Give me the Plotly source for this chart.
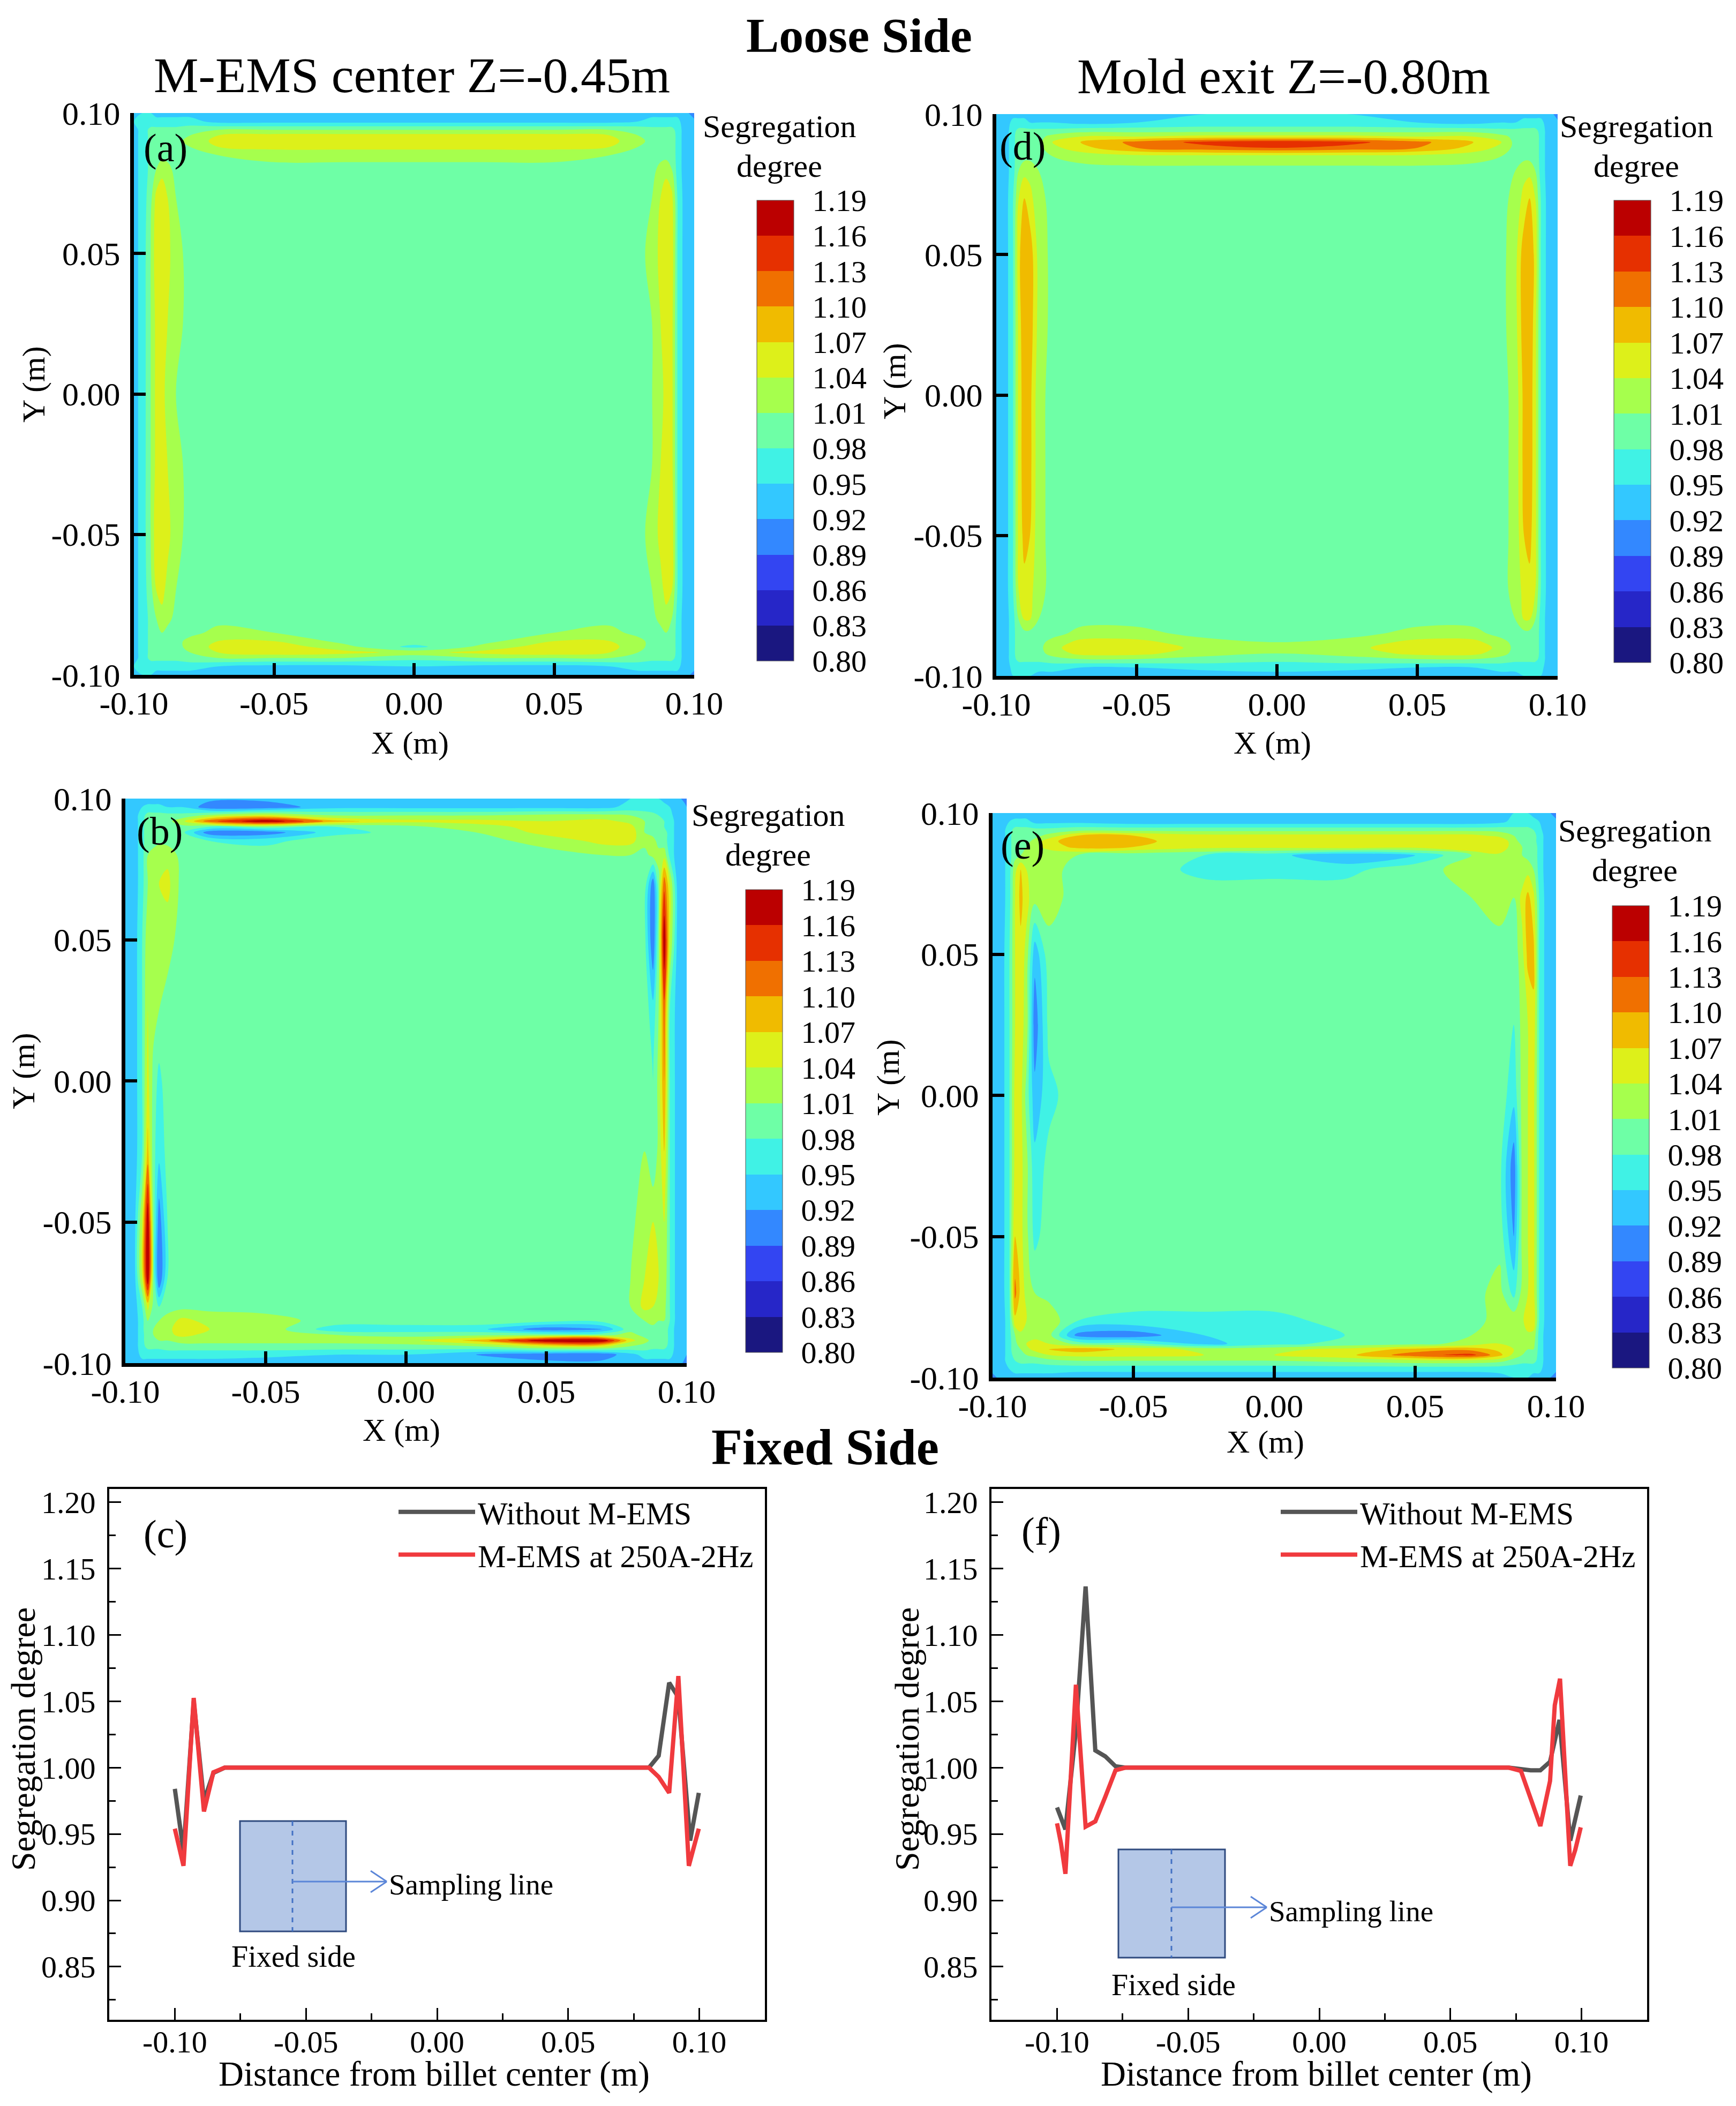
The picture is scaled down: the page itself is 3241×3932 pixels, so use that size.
import plotly.graph_objects as go

# size of the photographed page in pixels, the browser keeps an 8px body margin
W = 3241
H = 3932
PAGE_MARGIN = 8
FIG_W = W - PAGE_MARGIN
FIG_H = H - PAGE_MARGIN
FONT = "Liberation Serif"

# contour grid (m), finer near the walls
grid = [-.100, -.097, -.094, -.092, -.090, -.088, -.085, -.080, -.070, -.050, -.025, 0,
        .025, .050, .070, .080, .085, .088, .090, .092, .094, .097, .100]
grid_top_down = grid[::-1]

# segregation degree x100, rows run from y=+0.10 down to y=-0.10
z_a = [
    [95,95,95,94,94,94,94,94,93,93,94,94,94,93,93,94,94,94,94,94,94,93,90],
    [95,96,96,96,96,96,96,96,94,94,94,94,94,94,94,95,96,96,96,96,96,93,93],
    [94,96,99,99,99,99,99,100,101,101,101,101,101,101,101,100,99,99,99,99,97,93,93],
    [94,96,99,100,100,100,100,101,104,105,105,105,105,105,104,101,100,100,100,100,97,93,93],
    [94,96,99,100,100,100,100,102,105,106,106,106,106,106,105,102,100,100,100,100,97,93,93],
    [94,96,99,100,100,100,100,101,104,105,105,105,105,105,104,101,100,100,100,100,97,93,93],
    [94,96,99,100,100,100,100,100,101,102,102,102,102,102,101,100,100,100,100,100,97,93,93],
    [94,96,99,101,103,102,100,100,100,100,100,100,100,100,100,100,100,102,103,101,97,93,93],
    [94,96,100,105,106,104,101,100,100,100,100,100,100,100,100,100,101,104,106,105,98,93,93],
    [94,96,101,106,106,105,102,100,100,100,100,100,100,100,100,100,102,105,106,106,98,93,93],
    [94,96,101,105,106,104,102,100,100,100,100,100,100,100,100,100,101,104,106,105,98,93,93],
    [94,96,101,105,105,103,101,100,100,100,100,100,100,100,100,100,101,103,105,105,98,93,93],
    [94,96,101,105,106,104,102,100,100,100,100,100,100,100,100,100,101,104,106,105,98,93,93],
    [94,96,101,106,106,105,102,100,100,100,100,100,100,100,100,100,102,105,106,106,98,93,93],
    [94,96,100,104,105,103,101,100,100,100,100,100,100,100,100,100,101,103,105,104,98,93,93],
    [94,96,99,101,103,102,100,100,100,100,100,100,100,100,100,100,100,102,103,101,97,93,93],
    [94,96,99,100,101,100,100,100,102,101,100,100,100,101,102,100,100,100,101,100,97,93,93],
    [94,96,99,100,100,100,100,102,104,104,100,100,100,104,104,102,100,100,100,100,97,93,93],
    [94,96,99,100,100,100,100,102,105,106,102,97,102,106,105,102,100,100,100,100,97,93,93],
    [94,96,99,100,100,100,100,101,104,106,105,103,105,106,104,101,100,100,100,100,97,93,93],
    [94,96,99,99,99,99,99,100,101,101,101,99,101,101,101,100,99,99,99,99,97,93,93],
    [95,96,96,96,96,96,96,96,95,94,94,95,94,94,95,96,96,96,96,96,96,93,93],
    [95,95,95,94,94,94,94,94,93,93,93,93,93,93,93,94,94,94,94,94,94,93,91],
]
z_b = [
    [94,94,94,93,93,93,93,93,93,93,93,93,93,93,94,95,96,95,95,94,93,93,90],
    [93,93,95,96,96,96,95,95,90,90,94,94,94,94,94,96,96,96,96,96,95,93,92],
    [93,93,97,99,99,99,99,99,102,105,101,101,101,102,102,101,100,99,98,97,96,93,92],
    [93,93,97,100,100,100,100,103,112,119,108,105,105,104,105,103,101,100,99,98,97,93,92],
    [93,93,97,100,100,100,100,100,98,100,98,100,103,105,106,105,101,100,99,98,97,93,92],
    [93,93,97,100,100,100,100,99,90,90,97,99,101,105,106,106,101,100,100,99,97,93,92],
    [93,93,97,100,100,100,100,100,98,97,100,100,100,102,105,105,102,102,100,99,97,93,92],
    [93,93,97,101,102,104,103,100,100,100,100,100,100,100,101,101,100,102,102,103,97,93,93],
    [93,93,97,101,102,104,105,100,100,100,100,100,100,100,100,100,100,90,100,112,104,93,93],
    [93,93,98,103,103,103,102,100,100,100,100,100,100,100,100,100,99,89,100,119,104,93,93],
    [93,93,98,104,102,101,100,100,100,100,100,100,100,100,100,100,100,96,101,112,98,93,93],
    [93,93,98,105,100,97,100,100,100,100,100,100,100,100,100,100,100,98,102,110,98,93,93],
    [93,93,98,108,99,96,99,100,100,100,100,100,100,100,100,100,101,98,102,107,98,93,93],
    [93,93,104,119,100,90,98,100,100,100,100,100,100,100,100,100,103,104,103,104,98,93,93],
    [93,93,104,119,100,89,98,100,100,100,100,100,100,100,100,101,104,106,104,103,98,93,93],
    [93,93,98,105,100,98,100,100,100,100,100,100,100,100,100,101,105,104,102,102,98,93,93],
    [93,93,97,101,101,101,102,105,103,102,100,100,100,99,99,100,101,102,101,101,98,93,93],
    [93,93,97,101,101,102,103,106,104,103,96,96,96,90,92,100,100,100,100,100,97,93,93],
    [93,93,97,100,101,102,103,105,103,103,101,100,100,100,100,102,100,100,100,100,97,93,93],
    [93,93,97,100,100,101,101,102,102,102,102,103,108,119,119,105,102,100,100,100,97,93,93],
    [93,93,97,99,99,99,100,100,100,100,100,100,101,105,105,101,100,99,99,99,97,93,93],
    [93,93,96,96,96,96,96,96,96,96,95,95,92,90,90,94,96,96,96,96,96,93,92],
    [94,94,94,94,94,94,94,94,94,93,93,93,93,93,93,94,94,94,94,94,94,93,91],
]
z_d = [
    [94,94,94,94,94,93,93,93,93,94,95,95,95,94,93,93,93,94,94,94,94,94,90],
    [93,93,96,96,96,95,95,95,94,95,96,96,96,95,94,95,95,96,96,96,96,93,93],
    [93,93,97,99,99,99,99,99,100,100,100,100,100,100,100,99,99,99,99,99,97,93,93],
    [93,93,97,100,100,100,100,102,104,104,105,105,105,104,104,102,100,100,100,100,97,93,93],
    [93,93,97,100,100,100,100,104,107,111,114,115,114,111,107,104,100,100,100,100,97,93,93],
    [93,93,97,100,100,100,100,103,106,110,112,113,112,110,106,103,100,100,100,100,97,93,93],
    [93,93,97,100,100,100,100,101,102,103,103,103,103,103,102,101,100,100,100,100,97,93,93],
    [93,93,97,101,103,103,101,100,100,100,100,100,100,100,100,100,101,103,103,101,97,93,93],
    [93,93,98,104,107,105,102,100,100,100,100,100,100,100,100,100,102,105,107,104,98,93,93],
    [93,93,98,106,110,109,103,100,100,100,100,100,100,100,100,100,103,109,110,106,98,93,93],
    [93,93,98,105,110,109,103,100,100,100,100,100,100,100,100,100,103,109,110,105,98,93,93],
    [93,93,98,105,109,108,102,100,100,100,100,100,100,100,100,100,102,108,109,105,98,93,93],
    [93,93,98,105,109,108,102,100,100,100,100,100,100,100,100,100,102,108,109,105,98,93,93],
    [93,93,98,105,108,107,102,100,100,100,100,100,100,100,100,100,102,107,108,105,98,93,93],
    [93,93,98,104,106,105,102,100,100,100,100,100,100,100,100,100,102,105,106,104,98,93,93],
    [93,93,97,101,104,104,101,100,100,100,100,100,100,100,100,100,101,104,104,101,97,93,93],
    [93,93,97,100,100,100,100,100,102,102,100,100,100,102,102,100,100,100,100,100,97,93,93],
    [93,93,97,100,100,100,100,102,105,105,102,101,102,105,105,102,100,100,100,100,97,93,93],
    [93,93,97,100,100,100,100,103,106,106,103,102,103,106,106,103,100,100,100,100,97,93,93],
    [93,93,97,100,100,100,100,102,105,105,102,101,102,105,105,102,100,100,100,100,97,93,93],
    [93,93,97,99,99,99,99,100,101,101,100,99,100,101,101,100,99,99,99,99,97,93,93],
    [94,93,96,96,96,96,96,96,95,95,96,96,96,95,95,96,96,96,96,96,96,93,94],
    [95,95,95,95,95,95,94,94,93,93,93,94,93,93,93,94,94,95,95,95,95,95,92],
]
z_e = [
    [92,93,93,93,93,93,93,93,93,93,93,93,93,93,93,94,95,95,95,94,93,93,90],
    [93,93,95,96,96,96,94,94,94,93,93,93,93,93,93,94,96,96,96,96,95,93,93],
    [93,93,97,99,99,99,99,99,100,100,100,100,100,100,100,100,99,99,99,98,96,93,93],
    [93,93,97,100,100,100,100,102,107,107,105,105,105,105,105,103,101,100,100,99,97,93,93],
    [93,93,97,100,100,100,102,106,109,108,105,105,105,105,106,107,102,100,100,99,97,93,93],
    [93,93,97,100,100,101,103,105,108,107,105,105,106,105,107,107,102,101,100,100,97,93,93],
    [93,93,97,100,101,102,103,102,101,99,98,96,92,95,101,103,102,101,100,100,97,93,93],
    [93,93,97,103,107,104,101,102,100,100,97,97,97,100,102,103,103,102,103,101,97,93,93],
    [93,93,97,104,108,105,102,102,100,100,100,100,100,100,101,102,101,105,108,105,98,93,93],
    [93,93,98,104,106,103,93,100,100,100,100,100,100,100,100,100,99,103,108,108,98,93,93],
    [93,93,98,104,105,103,90,99,100,100,100,100,100,100,100,100,98,102,104,106,98,93,93],
    [93,93,98,105,105,100,93,97,100,100,100,100,100,100,100,100,96,102,104,105,98,93,93],
    [93,93,98,105,105,102,96,99,100,100,100,100,100,100,100,99,90,102,104,105,98,93,93],
    [93,93,98,107,105,102,97,100,100,100,100,100,100,100,100,100,92,102,104,105,98,93,93],
    [93,93,98,111,106,103,101,100,100,100,100,100,100,100,100,102,97,102,104,105,98,93,93],
    [93,93,97,106,107,104,102,103,98,97,97,97,99,100,100,102,103,103,107,106,98,93,93],
    [93,93,97,101,103,102,103,102,91,90,95,97,98,99,101,102,103,103,103,103,97,93,93],
    [93,93,97,100,103,104,105,104,100,99,94,97,99,100,102,104,104,103,102,102,97,93,93],
    [93,93,97,100,101,103,105,107,109,106,103,103,105,108,109,106,104,103,101,101,97,93,93],
    [93,93,97,99,100,101,102,104,105,105,104,104,106,112,114,108,103,101,100,100,97,93,93],
    [93,93,97,98,99,99,99,100,101,101,101,101,102,103,103,102,100,99,99,99,97,93,93],
    [93,93,95,96,96,96,96,96,96,96,96,96,96,96,96,96,96,96,96,96,96,93,93],
    [91,93,93,94,94,94,94,94,93,93,93,93,93,93,93,94,95,95,95,94,94,93,90],
]

# colour bands, 0.80 to 1.19 in steps of 0.03
band_colors = ["#1A1780", "#2626C8", "#3345F2", "#3388FF", "#33C8FF", "#40F2E5", "#6EFFA6",
               "#A6FF4D", "#DDF01A", "#F0BB00", "#F07000", "#E63000", "#BB0000"]
cbar_ticks = [.80, .83, .86, .89, .92, .95, .98, 1.01, 1.04, 1.07, 1.10, 1.13, 1.16, 1.19]
map_ticks = [-.10, -.05, 0, .05, .10]
map_ticklabels = ["-0.10", "-0.05", "0.00", "0.05", "0.10"]
line_yticks = [.85, .90, .95, 1.00, 1.05, 1.10, 1.15, 1.20]
line_ylabels = ["0.85", "0.90", "0.95", "1.00", "1.05", "1.10", "1.15", "1.20"]

# line plots
c_x_gray = [-.100, -.0967, -.0928, -.0889, -.0853, -.081, 0, .0808, .0845, .0885, .092, .0965, .0998]
c_y_gray = [.984, .937, 1.05, .975, .996, 1.0, 1.0, 1.0, 1.009, 1.064, 1.053, .945, .981]
c_x_red = [-.100, -.0967, -.0928, -.0889, -.0853, -.081, 0, .0808, .0845, .0885, .092, .096, .0998]
c_y_red = [.954, .926, 1.0525, .967, .9965, 1.0, 1.0, 1.0, .993, .981, 1.069, .926, .954]
f_x_gray = [-.100, -.0968, -.0928, -.0891, -.0854, -.0816, -.0777, -.074, 0, .0723, .0806, .0843, .088, .0916, .0957, .0997]
f_y_gray = [.97, .9535, 1.028, 1.1365, 1.013, 1.0085, 1.001, 1.0, 1.0, 1.0, .998, .998, 1.0045, 1.036, .945, .979]
f_x_red = [-.100, -.0985, -.0968, -.0928, -.0891, -.0854, -.0816, -.0777, -.074, 0, .0723, .0769, .0806, .0843, .088, .0898, .0918, .0957, .0976, .0997]
f_y_red = [.958, .943, .92, 1.0625, .9555, .9595, .978, .998, 1.0, 1.0, 1.0, .9975, .977, .956, .99, 1.047, 1.067, .926, .938, .955]


# page pixels to paper fractions
def px(x):
    return (x - PAGE_MARGIN) / FIG_W


def py(y):
    return 1 - (y - PAGE_MARGIN) / FIG_H


# plotly colours a band by its upper level, so each step is centred on that level
n_bands = len(band_colors)
steps = []
for i, color in enumerate(band_colors):
    steps.append([0 if i == 0 else (i + .5) / n_bands, color])
    steps.append([1 if i == n_bands - 1 else (i + 1.5) / n_bands, color])

fig = go.Figure()
annotations = []
shapes = []


def text(s, x, y, size, bold=False, angle=0, anchor="center"):
    if bold:
        s = "<b>" + s + "</b>"
    annotations.append(dict(text=s, x=px(x), y=py(y), xref="paper", yref="paper", showarrow=False,
                            xanchor=anchor, yanchor="middle", textangle=angle,
                            font=dict(family=FONT, size=size, color="black")))


def add_map(n, z, box, bar, letter, letter_xy, xlabel_xy, ylabel_xy, seg_xy):
    left, right, top, bottom = box
    bar_left, bar_top, bar_bottom = bar
    fig.add_trace(go.Contour(
        x=grid, y=grid_top_down, z=[[v / 100 for v in row] for row in z],
        xaxis="x%d" % n, yaxis="y%d" % n,
        colorscale=steps, zmin=.80, zmax=1.19,
        contours=dict(start=.80, end=1.19, size=.03, coloring="fill", showlines=False),
        line=dict(width=0),
        colorbar=dict(x=px(bar_left), xanchor="left", xpad=0, y=py(bar_top), yanchor="top", ypad=0,
                      len=bar_bottom - bar_top, lenmode="pixels", thickness=69, thicknessmode="pixels",
                      tickmode="array", tickvals=cbar_ticks, ticktext=["%.2f" % v for v in cbar_ticks],
                      ticks="outside", ticklen=23, tickcolor="rgba(0,0,0,0)",
                      tickfont=dict(family=FONT, size=58, color="black"),
                      outlinewidth=1, outlinecolor="#555555"),
        hoverinfo="skip",
    ))
    common = dict(range=[-.1, .1], tickmode="array", tickvals=map_ticks, ticktext=map_ticklabels,
                  ticks="inside", ticklen=22, tickwidth=6, tickcolor="black",
                  showline=True, linewidth=7, linecolor="black", showgrid=False, zeroline=False,
                  tickfont=dict(family=FONT, size=62, color="black"))
    fig.update_layout({
        "xaxis%d" % n: dict(domain=[px(left), px(right)], anchor="y%d" % n, ticklabelstandoff=-7, **common),
        "yaxis%d" % n: dict(domain=[py(bottom), py(top)], anchor="x%d" % n, ticklabelstandoff=6, **common),
    })
    text(letter, letter_xy[0], letter_xy[1], 74)
    text("X (m)", xlabel_xy[0], xlabel_xy[1], 60)
    text("Y (m)", ylabel_xy[0], ylabel_xy[1], 60, angle=-90)
    text("Segregation", seg_xy[0], seg_xy[1], 60)
    text("degree", seg_xy[0], seg_xy[1] + 74, 60)


def add_lines(n, xg, yg, xr, yr, box, legend_name, legend_x, letter, letter_xy, title_x, inset):
    left, right, top, bottom = box
    fig.add_trace(go.Scatter(x=xg, y=yg, mode="lines", name="Without M-EMS", xaxis="x%d" % n, yaxis="y%d" % n,
                             line=dict(color="#555555", width=8), legend=legend_name))
    fig.add_trace(go.Scatter(x=xr, y=yr, mode="lines", name="M-EMS at 250A-2Hz", xaxis="x%d" % n, yaxis="y%d" % n,
                             line=dict(color="#F03A3E", width=8), legend=legend_name))
    common = dict(ticks="inside", ticklen=22, tickwidth=3, tickcolor="black", mirror=True,
                  showline=True, linewidth=4, linecolor="black", showgrid=False, zeroline=False,
                  tickmode="array", tickfont=dict(family=FONT, size=58, color="black"))
    fig.update_layout({
        "xaxis%d" % n: dict(domain=[px(left), px(right)], anchor="y%d" % n, range=[-.125, .125],
                            tickvals=map_ticks, ticktext=map_ticklabels, ticklabelstandoff=-13,
                            minor=dict(ticks="inside", ticklen=12, tickwidth=3, tickcolor="black",
                                       tickmode="array", tickvals=[-.075, -.025, .025, .075]), **common),
        "yaxis%d" % n: dict(domain=[py(bottom), py(top)], anchor="x%d" % n, range=[.81, 1.21],
                            tickvals=line_yticks, ticktext=line_ylabels, ticklabelstandoff=10,
                            minor=dict(ticks="inside", ticklen=12, tickwidth=3, tickcolor="black",
                                       tickmode="array", tickvals=[.825, .875, .925, .975, 1.025, 1.075, 1.125, 1.175]),
                            **common),
        legend_name: dict(x=px(legend_x), xanchor="left", y=py(2778), yanchor="top", bgcolor="rgba(0,0,0,0)",
                          borderwidth=0, itemwidth=143, tracegroupgap=0, itemclick=False,
                          font=dict(family=FONT, size=59, color="black")),
    })
    text(letter, letter_xy[0], letter_xy[1], 74)
    text("Distance from billet center (m)", (left + right) / 2 - 6, 3872, 65)
    text("Segregation degree", title_x, 3247, 64, angle=-90)

    # small sketch of the sampled billet face
    x0, x1, y0, y1, mid, arrow_y, tip, fixed_x, fixed_y, sampling_y = inset
    shapes.append(dict(type="rect", x0=px(x0), x1=px(x1), y0=py(y0), y1=py(y1), xref="paper", yref="paper",
                       fillcolor="#B4C7E7", line=dict(color="#2F4A7F", width=3)))
    shapes.append(dict(type="line", x0=px(mid), x1=px(mid), y0=py(y0), y1=py(y1), xref="paper", yref="paper",
                       line=dict(color="#4472C4", width=3, dash="dash")))
    for ax, ay, bx, by in [(mid, arrow_y, tip, arrow_y), (tip - 30, arrow_y - 20, tip, arrow_y),
                           (tip - 30, arrow_y + 20, tip, arrow_y)]:
        shapes.append(dict(type="line", x0=px(ax), x1=px(bx), y0=py(ay), y1=py(by), xref="paper", yref="paper",
                           line=dict(color="#5B86D8", width=3)))
    text("Sampling line", tip + 2, sampling_y, 55, anchor="left")
    text("Fixed side", fixed_x, fixed_y, 56)


add_map(1, z_a, (250, 1296, 211, 1260), (1413, 374, 1234), "(a)", (309, 276), (765, 1387), (63, 717), (1455, 236))
add_map(2, z_b, (234, 1282, 1491, 2545), (1392, 1661, 2525), "(b)", (298, 1552), (749, 2670), (44, 2000), (1434, 1522))
add_map(3, z_d, (1860, 2908, 213, 1262), (3013, 374, 1237), "(d)", (1909, 273), (2375, 1387), (1670, 712), (3055, 236))
add_map(4, z_e, (1853, 2905, 1518, 2572), (3010, 1691, 2554), "(e)", (1909, 1578), (2362, 2692), (1658, 2012), (3052, 1551))
add_lines(5, c_x_gray, c_y_gray, c_x_red, c_y_red, (204, 1428, 2780, 3771), "legend", 739, "(c)", (309, 2864), 43,
          (448, 646, 3400, 3606, 546, 3513, 722, 548, 3653, 3518))
add_lines(6, f_x_gray, f_y_gray, f_x_red, f_y_red, (1851, 3075, 2780, 3771), "legend2", 2386, "(f)", (1944, 2859), 1693,
          (2088, 2287, 3453, 3655, 2187, 3561, 2365, 2191, 3706, 3568))

text("Loose Side", 1604, 66, 92, bold=True)
text("Fixed Side", 1540, 2702, 95, bold=True)
text("M-EMS center Z=-0.45m", 769, 140, 94)
text("Mold exit Z=-0.80m", 2396, 142, 94)

fig.update_layout(
    width=FIG_W,
    height=FIG_H,
    margin=dict(l=0, r=0, t=0, b=0, autoexpand=False),
    plot_bgcolor="white",
    paper_bgcolor="white",
    annotations=annotations,
    shapes=shapes,
)

fig.write_html("out.html")
